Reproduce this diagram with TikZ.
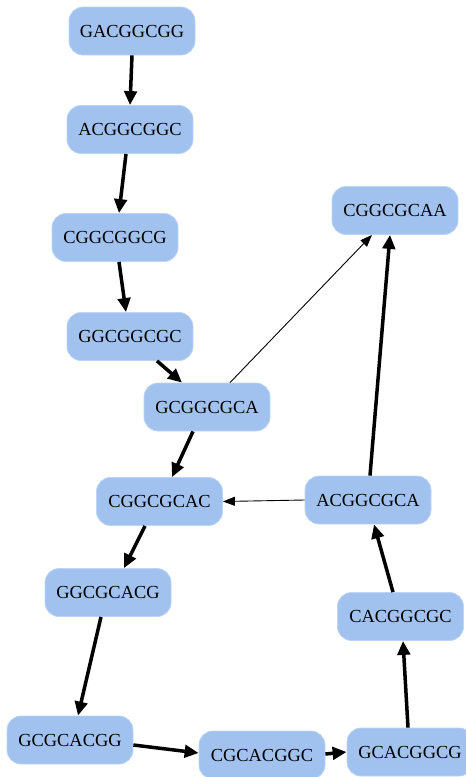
\documentclass[tikz,border=0pt]{standalone}
\usepackage{fontspec}
\setmainfont{Liberation Serif}
\usetikzlibrary{arrows.meta}
\definecolor{nodefill}{RGB}{161,194,238}
\begin{document}
\begin{tikzpicture}[x=1pt,y=-1pt,
 seq/.style={fill=nodefill, draw=nodefill!70!white, line width=0.8pt, rounded corners=14pt, minimum width=126pt, minimum height=48pt, inner sep=0pt, font=\fontsize{18.4}{20}\selectfont},
 heavy/.style={line width=3.5pt, -{Triangle[length=14pt,width=12.5pt]}},
 light/.style={line width=0.9pt, -{Triangle[length=12pt,width=9pt]}}]
\useasboundingbox (0,0) rectangle (466,777);
\node[seq] (a) at (132,31) {GACGGCGG};
\node[seq] (b) at (130,129.5) {ACGGCGGC};
\node[seq] (c) at (115,237.5) {CGGCGGCG};
\node[seq] (d) at (130,336.5) {GGCGGCGC};
\node[seq] (e) at (207,407) {GCGGCGCA};
\node[seq] (f) at (395,210.5) {CGGCGCAA};
\node[seq] (g) at (159.5,501.5) {CGGCGCAC};
\node[seq] (h) at (368,500) {ACGGCGCA};
\node[seq] (i) at (108,592.5) {GGCGCACG};
\node[seq] (j) at (400.5,616.5) {CACGGCGC};
\node[seq] (k) at (70,740) {GCGCACGG};
\node[seq] (l) at (262,755) {CGCACGGC};
\node[seq] (m) at (410,752) {GCACGGCG};
\draw[heavy] (a.south) -- (b.north);
\draw[heavy] ([xshift=-4pt]b.south) -- ([xshift=4pt]c.north);
\draw[heavy] ([xshift=4pt]c.south) -- ([xshift=-4pt]d.north);
\draw[heavy] ([xshift=27pt]d.south) -- ([xshift=-25pt]e.north);
\draw[light] ([xshift=23pt]e.north) -- ([xshift=-23pt]f.south);
\draw[heavy] ([xshift=-14pt]e.south) -- ([xshift=12.5pt]g.north);
\draw[heavy] ([xshift=-14.5pt]g.south) -- ([xshift=16pt]i.north);
\draw[heavy] ([xshift=-7pt]i.south) -- ([xshift=8pt]k.north);
\draw[heavy] ([yshift=-5pt]k.east) -- ([yshift=2pt]l.west);
\draw[heavy] ([yshift=1pt]l.east) -- (m.west);
\draw[heavy] ([xshift=-2pt]m.north) -- ([xshift=2.5pt]j.south);
\draw[heavy] ([xshift=-7.5pt]j.north) -- ([xshift=6pt]h.south);
\draw[heavy] ([xshift=2pt]h.north) -- ([xshift=-5pt]f.south);
\draw[light] (h.west) -- (g.east);
\end{tikzpicture}
\end{document}
